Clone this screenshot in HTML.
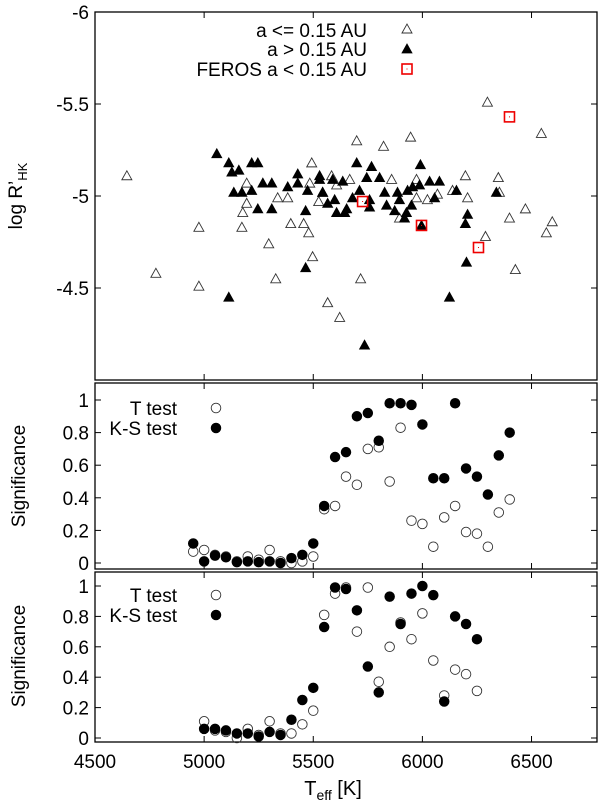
<!DOCTYPE html>
<html><head><meta charset="utf-8"><style>
body{margin:0;background:#fff;}
svg{display:block;font-family:"Liberation Sans",sans-serif;}
</style></head><body>
<svg id="chart" width="600" height="805" viewBox="0 0 600 805" xmlns="http://www.w3.org/2000/svg"></svg>
<script>
// ---- data ----
const openT = [4646,4779,4976,4976,5173,5177,5195,5195,5296,5328,5337,5383,5397,5456,5479,5497,5493,5484,5525,5566,5699,5822,5946,6545,5584,5667,5859,5973,6138,6197,6348,6353,6207,6069,6023,5973,5895,6472,6399,6595,6568,6289,6426,5717,5621,5607,6298];
const openR = [-5.11,-4.58,-4.83,-4.51,-4.83,-4.91,-4.96,-5.07,-4.74,-4.55,-4.99,-4.99,-4.85,-4.85,-4.80,-4.67,-5.18,-5.07,-4.97,-4.42,-5.30,-5.27,-5.32,-5.34,-5.11,-5.09,-5.09,-5.09,-5.03,-5.11,-5.10,-5.02,-4.99,-5.01,-4.98,-4.99,-4.88,-4.93,-4.88,-4.86,-4.80,-4.78,-4.60,-4.55,-4.34,-5.06,-5.51];
const fillT = [5058,5113,5218,5246,5127,5159,5136,5173,5218,5269,5310,5246,5310,5383,5429,5429,5474,5465,5465,5113,5529,5543,5699,5767,5991,6156,6339,6207,6197,6202,6124,5735,5529,5589,5635,5745,5804,5543,5598,5566,5653,5607,5644,5680,5758,5827,5836,5873,5895,5886,5932,5955,5987,6033,6078,6056,5927,5918,5950,5996,5758,5712];
const fillR = [-5.23,-5.18,-5.18,-5.18,-5.13,-5.14,-5.02,-5.02,-5.03,-5.07,-5.07,-4.93,-4.93,-5.05,-5.07,-5.12,-5.03,-4.92,-4.61,-4.45,-5.09,-5.02,-5.18,-5.16,-5.17,-5.03,-5.02,-4.90,-4.85,-4.64,-4.45,-4.19,-5.11,-5.09,-5.08,-5.10,-5.10,-5.02,-4.98,-4.96,-4.93,-4.91,-4.91,-4.99,-4.94,-5.02,-4.95,-4.92,-4.98,-5.02,-5.03,-5.05,-5.06,-5.08,-5.08,-4.99,-4.91,-4.88,-4.95,-4.84,-4.98,-5.03];
const ferosT = [5726,5996,6257,6399];
const ferosR = [-4.97,-4.84,-4.72,-5.43];

const midT  = [4950,5000,5050,5100,5150,5200,5250,5300,5350,5400,5450,5500,5550,5600,5650,5700,5750,5800,5850,5900,5950,6000,6050,6100,6150,6200,6250,6300,6350,6400];
const midTtest = [0.07,0.08,0.05,0.04,0.01,0.04,0.02,0.08,0.01,0.00,0.01,0.04,0.33,0.35,0.53,0.48,0.70,0.71,0.50,0.83,0.26,0.24,0.10,0.28,0.35,0.19,0.18,0.10,0.31,0.39];
const midKS    = [0.12,0.01,0.045,0.035,0.005,0.01,0.005,0.01,0.00,0.03,0.05,0.12,0.35,0.65,0.68,0.90,0.92,0.75,0.98,0.98,0.97,0.85,0.52,0.52,0.98,0.58,0.53,0.42,0.66,0.80];

const botT  = [5000,5050,5100,5150,5200,5250,5300,5350,5400,5450,5500,5550,5600,5650,5700,5750,5800,5850,5900,5950,6000,6050,6100,6150,6200,6250];
const botTtest = [0.11,0.05,0.04,0.00,0.06,0.02,0.11,0.03,0.03,0.09,0.18,0.81,0.95,0.99,0.70,0.99,0.37,0.60,0.76,0.65,0.82,0.51,0.28,0.45,0.42,0.31];
const botKS    = [0.06,0.06,0.05,0.03,0.03,0.01,0.04,0.02,0.12,0.25,0.33,0.73,0.99,0.98,0.84,0.47,0.30,0.93,0.75,0.95,1.00,0.94,0.24,0.80,0.75,0.65];

const xTicks = [4500,5000,5500,6000,6500];
const topTicks = [-6,-5.5,-5,-4.5];
const topTickLabels = ["-6","-5.5","-5","-4.5"];
const sigTicks = [0,0.2,0.4,0.6,0.8,1];
const sigTickLabels = ["0","0.2","0.4","0.6","0.8","1"];

// ---- geometry ----
const L=95, R=597;
const xs = t => L + (t-4500)/(6800-4500)*(R-L);
const P1={top:12,bot:380,y:v=>12+(v+6)/2*368};
const P2={top:383,bot:569,y:v=>563-v*163};
const P3={top:572,bot:742,y:v=>738-v*152};
const FS=19;
const NS="http://www.w3.org/2000/svg";
const svg=document.getElementById('chart');
function mk(tag,attrs,parent){const e=document.createElementNS(NS,tag);for(const k in attrs)e.setAttribute(k,attrs[k]);(parent||svg).appendChild(e);return e;}
function txt(s,x,y,anchor,size,parent){const e=mk('text',{x:x,y:y,'text-anchor':anchor,'font-size':size,fill:'#000'},parent);e.textContent=s;return e;}

function frame(P,name,yt,ylabels){
  const g=mk('g',{});
  
  
  const r=mk('rect',{x:L,y:P.top,width:R-L,height:P.bot-P.top,fill:'none',stroke:'#000','stroke-width':1.3},g);
  
  
  xTicks.forEach(t=>{const x=xs(t);
    mk('line',{x1:x,y1:P.bot,x2:x,y2:P.bot-6,stroke:'#000'},g);
    mk('line',{x1:x,y1:P.top,x2:x,y2:P.top+6,stroke:'#000'},g);});
  yt.forEach((v,i)=>{const y=P.y(v);
    mk('line',{x1:L,y1:y,x2:L+6,y2:y,stroke:'#000'},g);
    mk('line',{x1:R,y1:y,x2:R-6,y2:y,stroke:'#000'},g);
    const t=txt(ylabels[i],L-6,y+7,'end',FS,g);
    
    });
  return g;
}
frame(P1,'top-panel',topTicks,topTickLabels);
frame(P2,'middle-panel',sigTicks,sigTickLabels);
frame(P3,'bottom-panel',sigTicks,sigTickLabels);

// x tick labels
xTicks.forEach(t=>{const e=txt(String(t),xs(t),768,'middle',FS);
  
  });
// axis titles
const xt=mk('text',{x:333,y:795,'text-anchor':'middle','font-size':20});


xt.innerHTML='T<tspan font-size="14" dy="5">eff</tspan><tspan dy="-5"> [K]</tspan>';
const yt1=mk('text',{x:0,y:0,'text-anchor':'middle','font-size':19,transform:'translate(22,196) rotate(-90)'});


yt1.innerHTML='log R\u2019<tspan font-size="13" dy="5">HK</tspan>';
[[P2,476,'y-axis-title-middle'],[P3,656,'y-axis-title-bottom']].forEach(a=>{
  const e=mk('text',{x:0,y:0,'text-anchor':'middle','font-size':19,transform:'translate(25,'+a[1]+') rotate(-90)'});
  e.textContent='Significance';
  
  });

function tri(x,y,filled,parent){return mk('path',{d:`M${x-5},${y+4}L${x},${y-5}L${x+5},${y+4}Z`,fill:filled?'#000':'#fff','fill-opacity':filled?1:0,stroke:filled?'#000':'#333','stroke-width':filled?0.8:0.9},parent);}
function sq(x,y,parent){mk('rect',{x:x-5,y:y-5,width:10,height:10,fill:'none',stroke:'#e00','stroke-width':1.6},parent);return mk('rect',{x:x-0.5,y:y-0.5,width:1,height:1,fill:'#e00'},parent);}
function circ(x,y,filled,parent){return mk('circle',{cx:x,cy:y,r:4.8,fill:filled?'#000':'none',stroke:filled?'#000':'#333','stroke-width':0.9},parent);}

// top panel points
const gO=mk('g',{});
openT.forEach((t,i)=>{const p=tri(xs(t),P1.y(openR[i]),false,gO);
  
  });
const gF=mk('g',{});
fillT.forEach((t,i)=>{const p=tri(xs(t),P1.y(fillR[i]),true,gF);
  
  });
const gS=mk('g',{});
ferosT.forEach((t,i)=>{const p=sq(xs(t),P1.y(ferosR[i]),gS);
  
  });

// significance panels
function sigSeries(P,T,vals,filled,name){
  const g=mk('g',{});
  T.forEach((t,i)=>{const c=circ(xs(t),P.y(vals[i]),filled,g);
    
    });
}
sigSeries(P2,midT,midTtest,false,'middle-t-test');
sigSeries(P2,midT,midKS,true,'middle-ks-test');
sigSeries(P3,botT,botTtest,false,'bottom-t-test');
sigSeries(P3,botT,botKS,true,'bottom-ks-test');

// legends
function legText(s,y,name){const e=txt(s,367,y,'end',FS);}
legText('a <= 0.15 AU',37,'legend-entry-a-le-015');
legText('a > 0.15 AU',56,'legend-entry-a-gt-015');
legText('FEROS a < 0.15 AU',76,'legend-entry-feros');
tri(407,29,false);tri(407,49,true);sq(407,69);
function legText2(s,y,name){const e=txt(s,177,y,'end',FS);}
legText2('T test',415,'legend-t-test-middle');legText2('K-S test',435,'legend-ks-test-middle');
circ(216,408,false);circ(216,428,true);
legText2('T test',602,'legend-t-test-bottom');legText2('K-S test',622,'legend-ks-test-bottom');
circ(216,595,false);circ(216,615,true);
</script>
</body></html>
